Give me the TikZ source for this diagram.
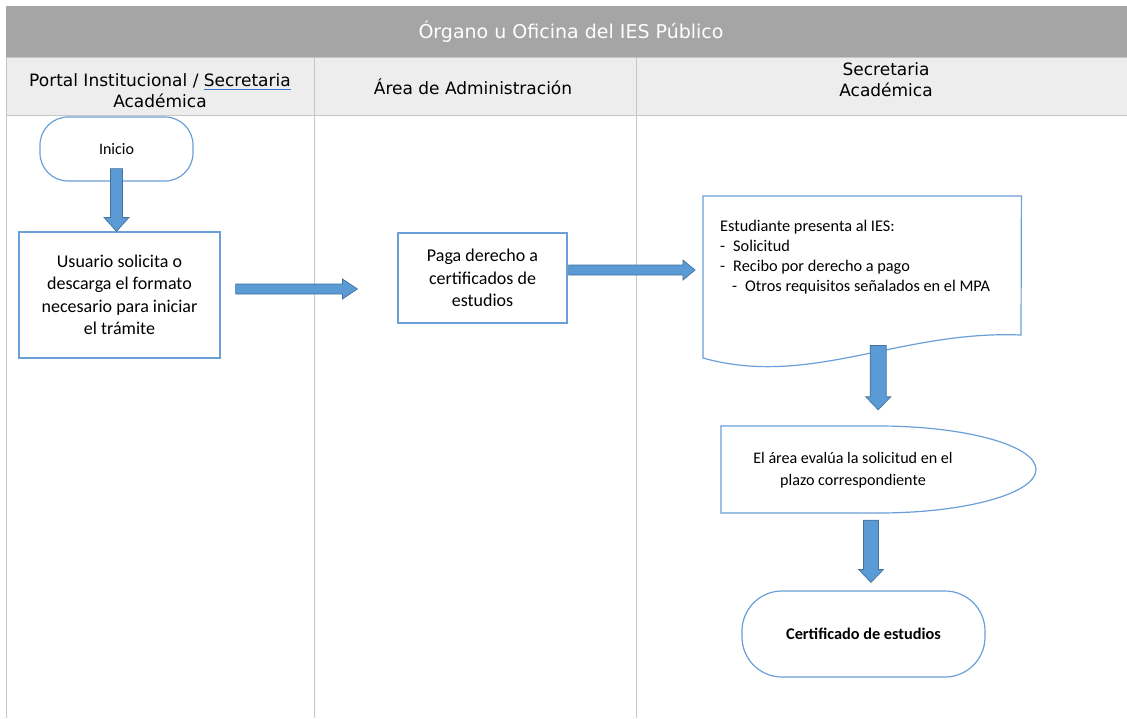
\documentclass[tikz,border=0pt]{standalone}
\usepackage{fontspec}
\setmainfont{Carlito}
\newfontfamily\hdrfont{DejaVu Sans}
\usetikzlibrary{calc}
\definecolor{band}{HTML}{A5A5A5}
\definecolor{hdrbg}{HTML}{EDEDED}
\definecolor{gridgray}{HTML}{C6C6C6}
\definecolor{shapeblue}{HTML}{6A9FD8}
\definecolor{arrowfill}{HTML}{5B9BD5}
\definecolor{arrowedge}{HTML}{41719C}
\definecolor{ulblue}{HTML}{3B6FD0}
\newcommand\spellul[1]{\setbox0\hbox{#1}\rlap{\color{ulblue}\rule[-3.5pt]{\wd0}{1.6pt}}\box0}
\newcommand\varrowblk[5]{\draw[fatarrow] let \p1=(#1), \p2=(#2) in (\x1-#3,\y1) -- (\x1+#3,\y1) -- (\x1+#3,\y2+#5) -- (\x1+#4,\y2+#5) -- (\x1,\y2) -- (\x1-#4,\y2+#5) -- (\x1-#3,\y2+#5) -- cycle;}
\newcommand\harrowblk[5]{\draw[fatarrow] let \p1=(#1), \p2=(#2) in (\x1,\y1+#3) -- (\x2-#5,\y1+#3) -- (\x2-#5,\y1+#4) -- (\x2,\y1) -- (\x2-#5,\y1-#4) -- (\x2-#5,\y1-#3) -- (\x1,\y1-#3) -- cycle;}
\begin{document}
\begin{tikzpicture}[x=1pt,y=-1pt,
  gridline/.style={draw=gridgray, line width=1pt},
  hdrtext/.style={font=\hdrfont\fontsize{17}{21}\selectfont, align=center, inner sep=0pt},
  shapeline/.style={draw=shapeblue, line width=1.2pt},
  procbox/.style={shapeline, fill=white, align=center, inner sep=0pt, font=\fontsize{18}{22.5}\selectfont},
  termbox/.style={shapeline, fill=white, align=center, inner sep=0pt},
  ghost/.style={draw=none, inner sep=0pt},
  fatarrow/.style={fill=arrowfill, draw=arrowedge, line width=0.7pt, line join=miter}
]
\useasboundingbox (0,0) rectangle (1127,718);
\fill[white] (0,0) rectangle (1127,718);
% title band and header row
\fill[band] (6,6) rectangle (1127,57);
\node[font=\hdrfont\fontsize{19}{23}\selectfont, text=white, inner sep=0pt] (title) at (571,32) {Órgano u Oficina del IES Público};
\fill[hdrbg] (6,57) rectangle (1127,115);
\draw[gridline] (6,57) -- (1127,57);
\draw[gridline] (6,115) -- (1127,115);
\draw[gridline] (6,57) -- (6,718);
\draw[gridline] (314,57) -- (314,718);
\draw[gridline] (636,57) -- (636,718);
\node[hdrtext] (lane1) at (160,91) {Portal Institucional / \spellul{Secretaria}\\Académica};
\node[hdrtext] (lane2) at (473,87) {Área de Administración};
\node[hdrtext] (lane3) at (886,80) {Secretaria\\Académica};

% shapes
\node[termbox, rounded corners=28pt, minimum width=153, minimum height=64, font=\fontsize{16}{19}\selectfont] (inicio) at (116.5,149) {Inicio};
\node[procbox, minimum width=201, minimum height=126] (usuario) at (119.5,295) {Usuario solicita o\\descarga el formato\\necesario para iniciar\\el trámite};
\node[procbox, minimum width=169, minimum height=90] (paga) at (482.5,278) {Paga derecho a\\certificados de\\estudios};

% document shape
\node[ghost, minimum width=318, minimum height=162, anchor=north west] (doc) at (703,196) {};
\draw[shapeline, fill=white] (doc.north west) -- (doc.north east) -- (1021,335)
  .. controls (900,330) and (810,388) .. (703,358) -- cycle;
\node[anchor=north west, align=left, inner sep=0pt, font=\fontsize{16.3}{20}\selectfont] (doctext) at (720,220)
  {Estudiante presenta al IES:\\
   \makebox[13pt][l]{-}Solicitud\\
   \makebox[13pt][l]{-}Recibo por derecho a pago\\
   \hspace{12pt}\makebox[13pt][l]{-}Otros requisitos señalados en el MPA};

% delay-like shape
\node[ghost, minimum width=315, minimum height=87] (evalua) at (878.5,469.5) {};
\draw[shapeline, fill=white] (721,426) -- (878.5,426)
  arc[start angle=-90, end angle=90, x radius=157.5, y radius=43.5] -- (721,513) -- cycle;
\node[align=center, inner sep=0pt, font=\fontsize{16.1}{22}\selectfont] (evaltext) at (853,470)
  {El área evalúa la solicitud en el\\plazo correspondiente};

\node[termbox, rounded corners=40pt, minimum width=243, minimum height=86, font=\bfseries\fontsize{16.3}{19}\selectfont] (cert) at (863.5,634) {Certificado de estudios};

% block arrows
\coordinate (a1s) at ($(inicio.south)+(0,-13)$);
\coordinate (a1e) at (a1s |- usuario.north);
\varrowblk{a1s}{a1e}{6pt}{12.5pt}{14pt}

\coordinate (a2s) at ($(usuario.east)+(15,-6)$);
\coordinate (a2e) at ($(paga.west |- a2s)+(-40,0)$);
\harrowblk{a2s}{a2e}{5pt}{10pt}{15pt}

\coordinate (a3s) at ($(paga.east)+(1,-8)$);
\coordinate (a3e) at ($(doc.west |- a3s)+(-8,0)$);
\harrowblk{a3s}{a3e}{5pt}{10pt}{12pt}

\coordinate (a4s) at ($(doc.south)+(16,-13)$);
\coordinate (a4e) at ($(a4s |- evalua.north)+(0,-16)$);
\varrowblk{a4s}{a4e}{8pt}{12.5pt}{13pt}

\coordinate (a5s) at ($(evalua.south)+(-7.5,7)$);
\coordinate (a5e) at ($(a5s |- cert.north)+(0,-8)$);
\varrowblk{a5s}{a5e}{7.5pt}{12.5pt}{13pt}
\end{tikzpicture}
\end{document}
